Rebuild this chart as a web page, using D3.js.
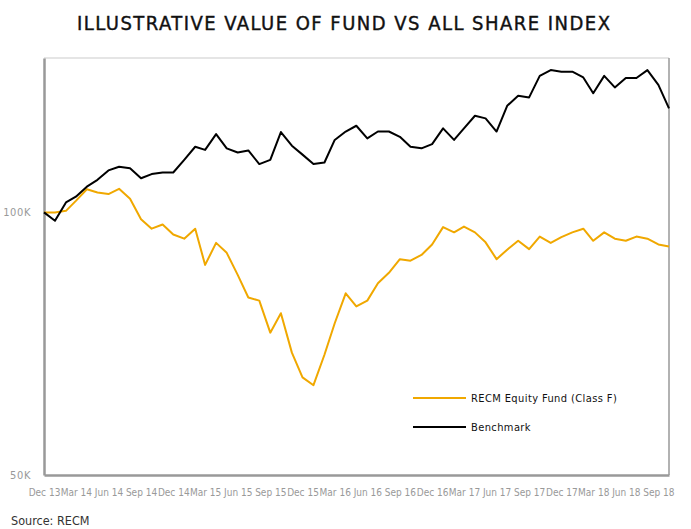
<!DOCTYPE html>
<html>
<head>
<meta charset="utf-8">
<script src="https://cdn.jsdelivr.net/npm/d3@7"></script>
<style>
  body { margin: 0; background: #fff; }
  svg text { font-family: "DejaVu Sans", sans-serif; font-stretch: condensed; }
</style>
</head>
<body>
<div id="chart"></div>
<script>
// monthly values, Dec 2013 .. Oct 2018 (rebased to 100K)
var fund = [100, 100, 100.3, 102.2, 104.4, 103.8, 103.5, 104.5, 102.6, 98.7,
  96.9, 97.7, 95.8, 95.0, 96.9, 90.0, 94.2, 92.3, 88.1, 83.8,
  83.2, 77.1, 80.8, 73.3, 68.6, 67.1, 72.9, 78.9, 84.6, 82.1,
  83.2, 86.5, 88.5, 91.1, 90.8, 91.9, 93.9, 97.2, 96.2, 97.3,
  96.2, 94.3, 91.1, 92.9, 94.6, 93.0, 95.4, 94.2, 95.3, 96.2,
  96.9, 94.6, 96.2, 95.0, 94.6, 95.4, 95.0, 93.9, 93.5];
var benchmark = [100, 98.4, 101.9, 103.0, 104.9, 106.2, 108.0, 108.7, 108.4, 106.5,
  107.3, 107.6, 107.6, 110.0, 112.5, 111.9, 114.9, 112.2, 111.4, 111.8,
  109.2, 110.0, 115.3, 112.7, 111.0, 109.2, 109.5, 113.8, 115.4, 116.5,
  114.1, 115.4, 115.4, 114.4, 112.5, 112.2, 113.0, 116.0, 113.8, 116.0,
  118.4, 117.9, 115.4, 120.3, 122.2, 121.9, 126.0, 127.1, 126.8, 126.8,
  125.7, 122.7, 126.0, 123.8, 125.6, 125.6, 127.1, 124.3, 119.8];
var tickLabels = ["Dec 13", "Mar 14", "Jun 14", "Sep 14", "Dec 14", "Mar 15", "Jun 15",
  "Sep 15", "Dec 15", "Mar 16", "Jun 16", "Sep 16", "Dec 16", "Mar 17", "Jun 17",
  "Sep 17", "Dec 17", "Mar 18", "Jun 18", "Sep 18"];
var yTicks = [50, 100];
var seriesNames = ["RECM Equity Fund (Class F)", "Benchmark"];

var start = new Date(2013, 11, 1);
var months = fund.map(function (d, i) { return d3.timeMonth.offset(start, i); });
var parseTick = d3.timeParse("%b %y");
var tickDates = tickLabels.map(function (t) { return parseTick(t); });

var width = 691, height = 529;
var margin = { top: 58, right: 22, bottom: 54, left: 44 };

var svg = d3.select("#chart").append("svg")
  .attr("width", width)
  .attr("height", height);

var x = d3.scaleTime()
  .domain([months[0], months[months.length - 1]])
  .range([margin.left, width - margin.right]);
var y = d3.scaleLinear()
  .domain([50, 129.4])
  .range([height - margin.bottom, margin.top]);

// title
svg.append("text")
  .attr("x", 77)
  .attr("y", 30)
  .attr("textLength", 533)
  .attr("lengthAdjust", "spacing")
  .style("font-size", "20px")
  .style("fill", "#111")
  .style("stroke", "#111")
  .style("stroke-width", 0.4)
  .text("ILLUSTRATIVE VALUE OF FUND VS ALL SHARE INDEX");

// frame
svg.append("line")
  .attr("x1", margin.left).attr("x2", width - margin.right)
  .attr("y1", margin.top).attr("y2", margin.top)
  .attr("stroke", "#ddd").attr("stroke-width", 1.5);
svg.append("line")
  .attr("x1", width - margin.right).attr("x2", width - margin.right)
  .attr("y1", margin.top).attr("y2", height - margin.bottom)
  .attr("stroke", "#999").attr("stroke-width", 1.5);

// y axis
var yAxis = svg.append("g")
  .attr("transform", "translate(" + margin.left + ",0)")
  .call(d3.axisLeft(y).tickValues(yTicks).tickSize(0).tickPadding(13)
    .tickFormat(function (d) { return d + "K"; }));
yAxis.select(".domain").attr("stroke", "#999").attr("stroke-width", 2.5);
yAxis.selectAll("text")
  .attr("fill", "#999")
  .style("font-size", "11px")
  .style("letter-spacing", "0.6px");

// x axis
var xAxis = svg.append("g")
  .attr("transform", "translate(0," + (height - margin.bottom) + ")")
  .call(d3.axisBottom(x).tickValues(tickDates).tickSize(0).tickPadding(14)
    .tickFormat(function (d, i) { return tickLabels[i]; }));
xAxis.select(".domain").attr("stroke", "#999").attr("stroke-width", 2.5);
xAxis.selectAll("text")
  .attr("fill", "#999")
  .style("font-size", "10px");

// lines
var line = function (values) {
  return d3.line()
    .x(function (d, i) { return x(months[i]); })
    .y(function (d) { return y(d); })(values);
};
var colors = ["#f0a800", "#000"];

svg.append("path")
  .attr("d", line(fund))
  .attr("fill", "none")
  .attr("stroke", colors[0])
  .attr("stroke-width", 2)
  .attr("stroke-linejoin", "round");
svg.append("path")
  .attr("d", line(benchmark))
  .attr("fill", "none")
  .attr("stroke", colors[1])
  .attr("stroke-width", 2)
  .attr("stroke-linejoin", "round");

// legend
var legend = svg.append("g").attr("transform", "translate(413,398)");
seriesNames.forEach(function (name, i) {
  legend.append("line")
    .attr("x1", 0).attr("x2", 53)
    .attr("y1", i * 29).attr("y2", i * 29)
    .attr("stroke", colors[i]).attr("stroke-width", 2);
  legend.append("text")
    .attr("x", 58)
    .attr("y", i * 29 + 4)
    .style("font-size", "11px")
    .style("letter-spacing", "0.4px")
    .style("fill", "#111")
    .text(name);
});

// source
svg.append("text")
  .attr("x", 11)
  .attr("y", 525)
  .style("font-size", "12.5px")
  .style("fill", "#333")
  .text("Source: RECM");
</script>
</body>
</html>
